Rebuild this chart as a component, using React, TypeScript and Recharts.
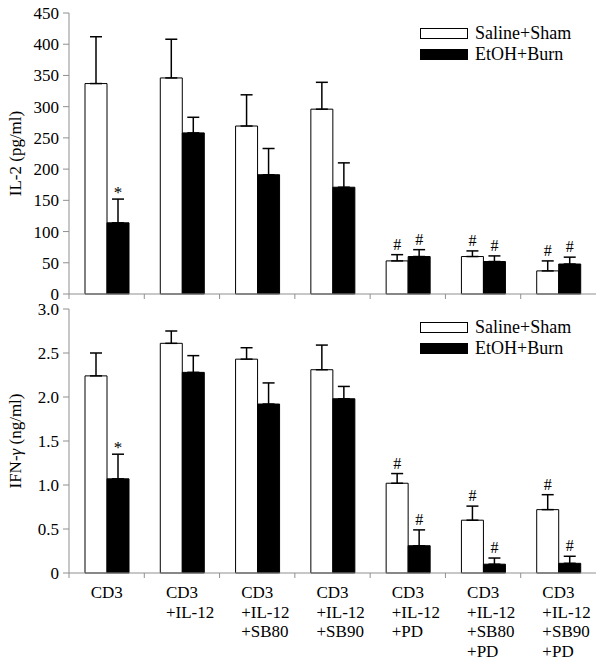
import React from "react";
import { BarChart, Bar, XAxis, YAxis, ErrorBar, LabelList, Legend, Label } from "recharts";

const FONT = '"Liberation Serif", "Times New Roman", serif';
const FRAME = "#8f8f8f";

const categories = [
  "CD3",
  "CD3\n+IL-12",
  "CD3\n+IL-12\n+SB80",
  "CD3\n+IL-12\n+SB90",
  "CD3\n+IL-12\n+PD",
  "CD3\n+IL-12\n+SB80\n+PD",
  "CD3\n+IL-12\n+SB90\n+PD",
];
const seriesNames = ["Saline+Sham", "EtOH+Burn"];
const seriesFills = ["#ffffff", "#000000"];

// IL-2 (pg/ml)
const il2Sham = [337, 346, 269, 296, 53, 60, 37];
const il2ShamErr = [75, 62, 50, 43, 10, 9, 16];
const il2Burn = [114, 258, 191, 171, 60, 52, 48];
const il2BurnErr = [38, 25, 42, 39, 11, 9, 11];
const il2ShamMark = ["", "", "", "", "#", "#", "#"];
const il2BurnMark = ["*", "", "", "", "#", "#", "#"];
const il2Ticks = [0, 50, 100, 150, 200, 250, 300, 350, 400, 450];

// IFN-gamma (ng/ml)
const ifnSham = [2.24, 2.61, 2.43, 2.31, 1.02, 0.6, 0.72];
const ifnShamErr = [0.26, 0.14, 0.13, 0.28, 0.11, 0.16, 0.17];
const ifnBurn = [1.07, 2.28, 1.92, 1.98, 0.31, 0.1, 0.11];
const ifnBurnErr = [0.28, 0.19, 0.24, 0.14, 0.18, 0.07, 0.08];
const ifnShamMark = ["", "", "", "", "#", "#", "#"];
const ifnBurnMark = ["*", "", "", "", "#", "#", "#"];
const ifnTicks = [0, 0.5, 1, 1.5, 2, 2.5, 3];

type Row = {
  name: string;
  sham: number;
  burn: number;
  shamE: number;
  burnE: number;
  shamErr: [number, number];
  burnErr: [number, number];
  shamMark: string;
  burnMark: string;
};

function buildRows(
  sham: number[],
  shamErr: number[],
  burn: number[],
  burnErr: number[],
  shamMark: string[],
  burnMark: string[]
): Row[] {
  return categories.map((name, i) => ({
    name,
    sham: sham[i],
    burn: burn[i],
    shamE: shamErr[i],
    burnE: burnErr[i],
    shamErr: [0, shamErr[i]],
    burnErr: [0, burnErr[i]],
    shamMark: shamMark[i],
    burnMark: burnMark[i],
  }));
}

const il2Rows = buildRows(il2Sham, il2ShamErr, il2Burn, il2BurnErr, il2ShamMark, il2BurnMark);
const ifnRows = buildRows(ifnSham, ifnShamErr, ifnBurn, ifnBurnErr, ifnShamMark, ifnBurnMark);

// significance marks sit just above the error bar cap
function markContent(rows: Row[], series: "sham" | "burn") {
  return (p: any) => {
    const row = rows[p.index];
    if (!row) return null;
    const txt = series === "sham" ? row.shamMark : row.burnMark;
    if (!txt) return null;
    const v = series === "sham" ? row.sham : row.burn;
    const e = series === "sham" ? row.shamE : row.burnE;
    const x = Number(p.x);
    const y = Number(p.y);
    const w = Number(p.width);
    const h = Number(p.height);
    const errTop = y - e * (h / v);
    return (
      <text
        x={x + w / 2}
        y={errTop - (txt === "*" ? 1 : 5)}
        textAnchor="middle"
        fontSize={txt === "*" ? 17 : 16}
        fontFamily={FONT}
        fill="#000"
      >
        {txt}
      </text>
    );
  };
}

function CategoryTick(props: any) {
  const { x, y, payload, showText } = props;
  const half = payload?.offset ?? 37.6;
  const lines = String(payload.value).split("\n");
  return (
    <g>
      <line x1={x - half} y1={y} x2={x - half} y2={y + 5} stroke={FRAME} />
      {showText && (
        <text x={x - 16} y={y + 25} fontSize={17} fontFamily={FONT} fill="#000">
          {lines.map((l, i) => (
            <tspan key={i} x={x - 16} dy={i === 0 ? 0 : 19.5}>
              {l}
            </tspan>
          ))}
        </text>
      )}
    </g>
  );
}

const legendContent = () => (
  <div style={{ fontFamily: FONT, fontSize: 18, color: "#000" }}>
    {seriesNames.map((n, i) => (
      <div key={n} style={{ display: "flex", alignItems: "center", height: 21 }}>
        <span
          style={{
            display: "inline-block",
            width: 46,
            height: 9,
            border: "1px solid #000",
            background: seriesFills[i],
          }}
        />
        <span style={{ marginLeft: 7, lineHeight: "21px", whiteSpace: "nowrap" }}>{n}</span>
      </div>
    ))}
  </div>
);

interface PanelProps {
  rows: Row[];
  height: number;
  top: number;
  bottom: number;
  xAxisHeight: number;
  domain: [number, number];
  ticks: number[];
  fmt: (v: number) => string;
  yLabel: React.ReactNode;
  showXLabels: boolean;
  legendTop: number;
}

function Panel({ rows, height, top, bottom, xAxisHeight, domain, ticks, fmt, yLabel, showXLabels, legendTop }: PanelProps) {
  return (
    <BarChart
      width={604}
      height={height}
      data={rows}
      margin={{ top, right: 8, bottom, left: 0 }}
      barCategoryGap={16}
      barGap={0}
    >
      <XAxis
        dataKey="name"
        height={xAxisHeight}
        axisLine={{ stroke: FRAME }}
        tickLine={false}
        tickSize={0}
        tickMargin={0}
        interval={0}
        tick={<CategoryTick showText={showXLabels} />}
      />
      <XAxis xAxisId="top" dataKey="name" orientation="top" height={0} tick={false} tickLine={false} axisLine={{ stroke: FRAME }} />
      <YAxis
        width={69}
        domain={domain}
        ticks={ticks}
        interval={0}
        tickFormatter={fmt}
        tickSize={6}
        tickMargin={4}
        axisLine={{ stroke: FRAME }}
        tickLine={{ stroke: FRAME }}
        tick={{ fontSize: 17, fontFamily: FONT, fill: "#000" }}
      >
        <Label
          content={(p: any) => {
            const vb = p.viewBox || {};
            const cx = 15;
            const cy = (vb.y ?? 0) + (vb.height ?? 0) / 2;
            return (
              <text
                x={cx}
                y={cy}
                transform={`rotate(-90, ${cx}, ${cy})`}
                textAnchor="middle"
                dominantBaseline="central"
                fontSize={17}
                fontFamily={FONT}
                fill="#000"
              >
                {yLabel}
              </text>
            );
          }}
        />
      </YAxis>
      <YAxis yAxisId="right" orientation="right" width={0} domain={domain} tick={false} tickLine={false} axisLine={{ stroke: FRAME }} />
      <Legend
        layout="vertical"
        align="center"
        verticalAlign="middle"
        content={legendContent}
        wrapperStyle={{ top: legendTop, left: 420, width: 180 }}
      />
      <Bar dataKey="sham" name={seriesNames[0]} fill={seriesFills[0]} stroke="#000" strokeWidth={1} isAnimationActive={false}>
        <ErrorBar dataKey="shamErr" direction="y" width={6} stroke="#000" strokeWidth={1.5} />
        <LabelList dataKey="shamMark" content={markContent(rows, "sham")} />
      </Bar>
      <Bar dataKey="burn" name={seriesNames[1]} fill={seriesFills[1]} stroke="#000" strokeWidth={1} isAnimationActive={false}>
        <ErrorBar dataKey="burnErr" direction="y" width={6} stroke="#000" strokeWidth={1.5} />
        <LabelList dataKey="burnMark" content={markContent(rows, "burn")} />
      </Bar>
    </BarChart>
  );
}

export default function App() {
  return (
    <div style={{ position: "absolute", left: 0, top: 0, width: 604, height: 664, background: "#fff" }}>
      <div style={{ position: "absolute", left: 0, top: 0 }}>
        <Panel
          rows={il2Rows}
          height={310}
          top={13}
          bottom={10}
          xAxisHeight={6}
          domain={[0, 450]}
          ticks={il2Ticks}
          fmt={(v) => String(v)}
          yLabel="IL-2 (pg/ml)"
          showXLabels={false}
          legendTop={23}
        />
      </div>
      <div style={{ position: "absolute", left: 0, top: 300 }}>
        <Panel
          rows={ifnRows}
          height={364}
          top={9}
          bottom={0}
          xAxisHeight={91}
          domain={[0, 3]}
          ticks={ifnTicks}
          fmt={(v) => (v === 0 ? "0" : v.toFixed(1))}
          yLabel={
            <>
              IFN-<tspan fontStyle="italic">γ</tspan> (ng/ml)
            </>
          }
          showXLabels={true}
          legendTop={17}
        />
      </div>
    </div>
  );
}
